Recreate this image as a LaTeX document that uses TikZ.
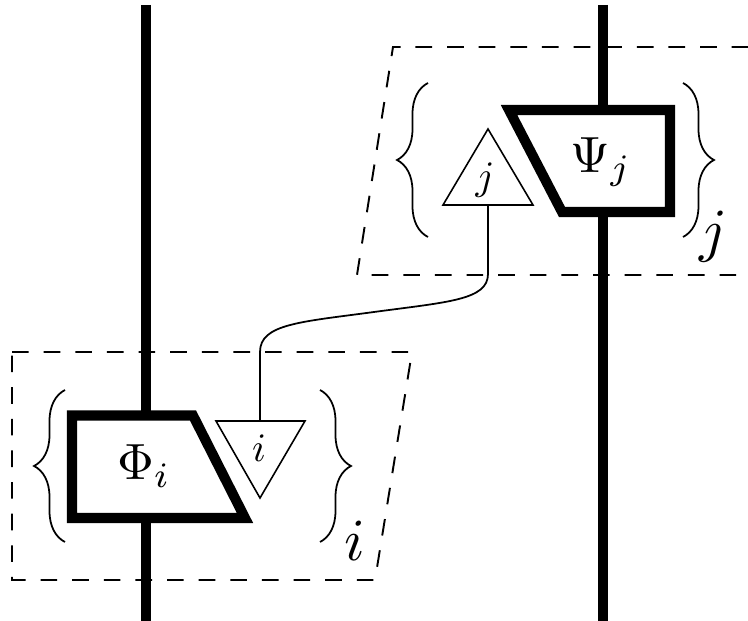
\documentclass[tikz,border=0pt]{standalone}
\usetikzlibrary{decorations.pathreplacing}
\begin{document}
\begin{tikzpicture}[x=0.02cm,y=-0.02cm,
  wire/.style={line width=5.7pt},
  box/.style={line width=5.7pt,fill=white,miter limit=20},
  tri/.style={line width=0.9pt,fill=white,line join=miter},
  link/.style={line width=1pt},
  dbox/.style={line width=1.1pt,dash pattern=on 9.5pt off 8.5pt},
  brc/.style={line width=1pt,decorate,decoration={brace,amplitude=0.62cm}},
  big/.style={scale=2.9},
  small/.style={scale=2.3},
  huge/.style={scale=3.4}]
\clip (0,0) rectangle (748,621);
% dashed regions
\draw[dbox] (12,352) -- (412,352) -- (375,580) -- (12,580) -- cycle;
\draw[dbox] (780,47) -- (393,47) -- (357,275) -- (780,275);
% wires
\coordinate (wlt) at (146,5);
\coordinate (wlb) at (146,640);
\coordinate (wrt) at (603,5);
\coordinate (wrb) at (603,640);
\draw[wire] (wlt) -- (wlb);
\draw[wire] (wrt) -- (wrb);
% Phi trapezoid
\draw[box] (72,415.5) -- (193,415.5) -- (245,518) -- (72,518) -- cycle;
\node[big] (phi) at (144,466) {$\Phi_i$};
% Psi trapezoid
\draw[box] (509,110) -- (670,110) -- (670,212) -- (562,212) -- cycle;
\node[big] (psi) at (601,162) {$\Psi_j$};
% triangles
\draw[tri] (216,421) -- (305,421) -- (260,498) -- cycle;
\node[small] (ti) at (259,448) {$i$};
\draw[tri] (443,205) -- (533,205) -- (488,129) -- cycle;
\node[small] (tj) at (485,180) {$j$};
\coordinate (ci) at (260,421);
\coordinate (cj) at (488,205);
% link
\draw[link] (ci) -- (260,352) .. controls (260,324) and (300,322) .. (374,312)
  .. controls (448,302) and (488,300) .. (488,274) -- (cj);
% braces
\draw[brc] (65,542) -- (65,390);
\draw[brc] (320,390) -- (320,542);
\draw[brc] (428,237) -- (428,83);
\draw[brc] (683,83) -- (683,237);
\node[huge] (li) at (355,541) {$i$};
\node[huge] (lj) at (714,237) {$j$};
\end{tikzpicture}
\end{document}
